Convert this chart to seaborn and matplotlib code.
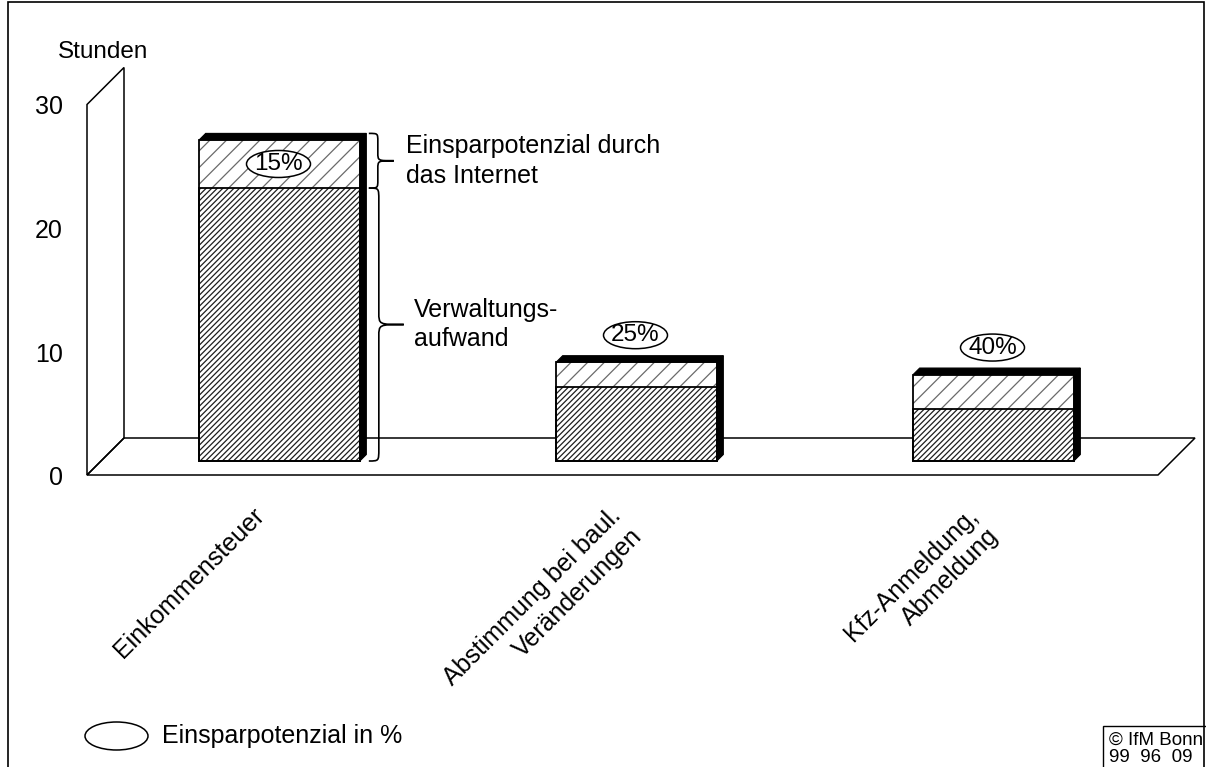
import numpy as np
import pandas as pd
import matplotlib
matplotlib.use("Agg")
import matplotlib.pyplot as plt
from matplotlib.patches import Polygon, Ellipse, Rectangle, PathPatch
from matplotlib.path import Path
import seaborn as sns

# ---------------- data ----------------
categories = ["Einkommensteuer", "Abstimmung bei baul.\nVeränderungen", "Kfz-Anmeldung,\nAbmeldung"]
total_hours = [26.0, 8.0, 7.0]          # Verwaltungsaufwand inkl. Einsparpotenzial
admin_hours = [22.1, 6.0, 4.2]          # Verwaltungsaufwand nach Einsparung
savings_labels = ["15%", "25%", "40%"]
y_ticks = [0, 10, 20, 30]
y_unit = "Stunden"
brace_labels = ["Einsparpotenzial durch\ndas Internet", "Verwaltungs-\naufwand"]
legend_label = "Einsparpotenzial in %"
source_lines = ["© IfM Bonn", "99  96  09"]

# ---------------- style ----------------
sns.set_style("white")
plt.rcParams["font.family"] = ["Liberation Sans", "DejaVu Sans"]
plt.rcParams["text.color"] = "black"
plt.rcParams["hatch.linewidth"] = 0.9
FS = 18

W, H, DPI = 1206, 767, 100
fig = plt.figure(figsize=(W / DPI, H / DPI), dpi=DPI)
ax = fig.add_axes([0, 0, 1, 1])

BAR_W = 0.45
df = pd.DataFrame({"Kategorie": categories, "Gesamt": total_hours, "Verwaltung": admin_hours})

sns.barplot(data=df, x="Kategorie", y="Gesamt", order=categories, width=BAR_W,
            color="white", saturation=1, errorbar=None, edgecolor="#6a6a6a",
            linewidth=0, hatch="//", ax=ax)
n_upper = len(ax.patches)
sns.barplot(data=df, x="Kategorie", y="Verwaltung", order=categories, width=BAR_W,
            color="white", saturation=1, errorbar=None, edgecolor="#1e1e1e",
            linewidth=0, hatch="//////", ax=ax)
for k, p in enumerate(ax.patches):
    p.set_zorder(3 if k < n_upper else 3.2)

# ---------------- scales (bar plane) ----------------
X0_PX, X_STEP = 279.5, 357.0
Y0_PX, Y_STEP = 461.0, 12.35
ax.set_xlim(-X0_PX / X_STEP, (W - X0_PX) / X_STEP)
ax.set_ylim((Y0_PX - H) / Y_STEP, Y0_PX / Y_STEP)
ax.axis("off")


def dx(px):
    return px / X_STEP


def dy(px):
    return px / Y_STEP


FRONT = (-14, -14)
BACK = (23, 23)
DEPTH = 6.5
x_pos = np.arange(len(categories))


def pt(x, y, off):
    return (x + dx(off[0]), y + dy(off[1]))


# ---------------- floor and wall ----------------
xa, xb = -0.5, len(categories) - 0.5
ytop = y_ticks[-1]
floor = [pt(xa, 0, FRONT), pt(xb, 0, FRONT), pt(xb, 0, BACK), pt(xa, 0, BACK)]
ax.add_patch(Polygon(floor, closed=True, fill=False, ec="black", lw=1.1, zorder=1))
wall = [pt(xa, 0, FRONT), pt(xa, ytop, FRONT), pt(xa, ytop, BACK), pt(xa, 0, BACK)]
ax.add_patch(Polygon(wall, closed=True, fill=False, ec="black", lw=1.1, zorder=1))

for v in y_ticks:
    x_, y_ = pt(xa, v, FRONT)
    ax.text(x_ - dx(24), y_ - dy(3), str(v), ha="right", va="center", fontsize=FS)

fig.text(58 / W, 1 - 52 / H, y_unit, ha="left", va="center", fontsize=17.5)

# ---------------- bar outlines and 3D faces ----------------
ax.bar(x_pos, total_hours, width=BAR_W, fill=False, edgecolor="black", linewidth=1.3, zorder=4)
ax.bar(x_pos, admin_hours, width=BAR_W, fill=False, edgecolor="black", linewidth=1.3, zorder=4)

for i, tot in enumerate(total_hours):
    xl, xr = i - BAR_W / 2, i + BAR_W / 2
    ddx, ddy = dx(DEPTH), dy(DEPTH)
    top = [(xl, tot), (xr, tot), (xr + ddx, tot + ddy), (xl + ddx, tot + ddy)]
    side = [(xr, 0), (xr, tot), (xr + ddx, tot + ddy), (xr + ddx, ddy)]
    ax.add_patch(Polygon(top, closed=True, fc="black", ec="black", lw=0.8, zorder=5))
    ax.add_patch(Polygon(side, closed=True, fc="black", ec="black", lw=0.8, zorder=5))

# ---------------- percentage ellipses ----------------
for i, (tot, adm, lab) in enumerate(zip(total_hours, admin_hours, savings_labels)):
    seg_px = (tot - adm) * Y_STEP
    if seg_px > 40:
        cy = (tot + adm) / 2
    else:
        cy = tot + dy(27)
    cx = i - dx(1)
    ax.add_patch(Ellipse((cx, cy), width=dx(64), height=dy(27), fc="white", ec="black",
                         lw=1.1, zorder=6))
    ax.text(cx, cy, lab, ha="center", va="center", fontsize=17.5, zorder=7)


# ---------------- braces ----------------
def brace(x_left, y_bot, y_top, spine_px, tip_px, curl_px):
    xs = x_left + dx(spine_px)
    xt = x_left + dx(tip_px)
    c = dy(curl_px)
    ym = (y_bot + y_top) / 2
    verts = [(x_left, y_top),
             (xs, y_top), (xs, y_top), (xs, y_top - c),
             (xs, ym + c),
             (xs, ym), (xs, ym), (xt, ym),
             (xs, ym), (xs, ym), (xs, ym - c),
             (xs, y_bot + c),
             (xs, y_bot), (xs, y_bot), (x_left, y_bot)]
    codes = [Path.MOVETO,
             Path.CURVE4, Path.CURVE4, Path.CURVE4,
             Path.LINETO,
             Path.CURVE4, Path.CURVE4, Path.CURVE4,
             Path.CURVE4, Path.CURVE4, Path.CURVE4,
             Path.LINETO,
             Path.CURVE4, Path.CURVE4, Path.CURVE4]
    ax.add_patch(PathPatch(Path(verts, codes), fill=False, ec="black", lw=1.2, zorder=5))
    return xt, ym


bx = 0 + BAR_W / 2 + dx(9)
tx, ty = brace(bx, admin_hours[0], total_hours[0] + dy(DEPTH), 9, 25, 8)
ax.text(tx + dx(12), ty, brace_labels[0], ha="left", va="center", fontsize=FS, linespacing=1.3)
tx, ty = brace(bx, 0, admin_hours[0], 10, 35, 12)
ax.text(tx + dx(10), ty, brace_labels[1], ha="left", va="center", fontsize=FS, linespacing=1.3)

# ---------------- category labels ----------------
for i, lab in enumerate(categories):
    x_, y_ = pt(i, 0, FRONT)
    ax.text(x_ - dx(14), y_ - dy(28), lab, rotation=45, ha="right", va="top",
            rotation_mode="anchor", fontsize=FS, linespacing=1.3)

# ---------------- legend, source, border ----------------
fig.add_artist(Ellipse((1.165, 0.31), 0.63, 0.28, transform=fig.dpi_scale_trans,
                       fc="white", ec="black", lw=1.1))
fig.text(162 / W, 31 / H, legend_label, ha="left", va="center", fontsize=FS)

fig.add_artist(Rectangle((11.03, -0.3), 1.2, 0.71, transform=fig.dpi_scale_trans,
                         fill=False, ec="black", lw=1.0))
fig.text(1109 / W, 27 / H, source_lines[0], ha="left", va="center", fontsize=13.5)
fig.text(1109 / W, 9 / H, source_lines[1], ha="left", va="center", fontsize=13.5)

fig.add_artist(Rectangle((0.08, -0.3), 11.96, 7.95, transform=fig.dpi_scale_trans,
                         fill=False, ec="black", lw=1.2))

fig.savefig("out.png", dpi=DPI)
